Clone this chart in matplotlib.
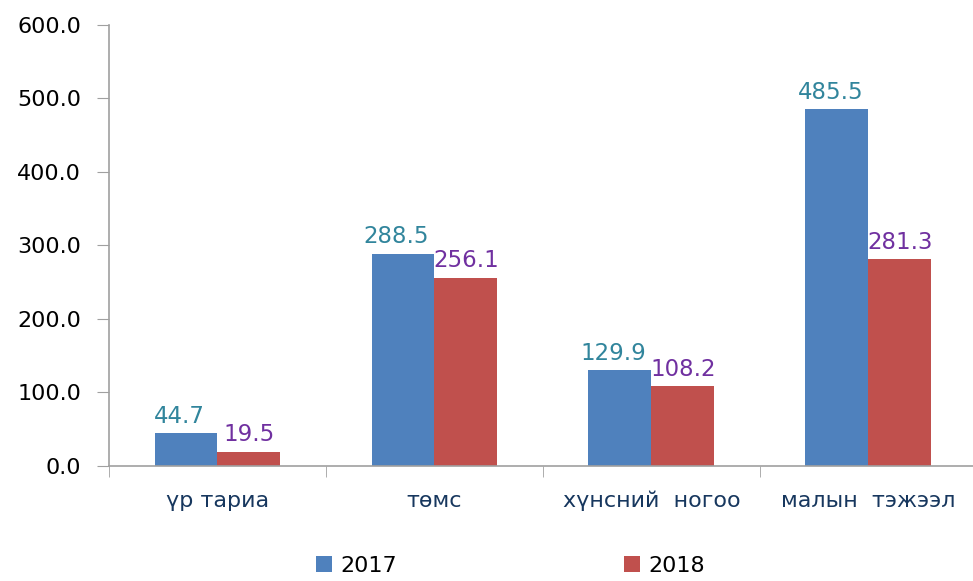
import matplotlib
matplotlib.use("Agg")
import matplotlib.pyplot as plt
import numpy as np

categories = ["үр тариа", "төмс", "хүнсний  ногоо", "малын  тэжээл"]
series_names = ["2017", "2018"]
values_2017 = [44.7, 288.5, 129.9, 485.5]
values_2018 = [19.5, 256.1, 108.2, 281.3]
yticks = [0, 100, 200, 300, 400, 500, 600]

plt.rcParams['font.family'] = ['DejaVu Sans']

fig = plt.figure(figsize=(9.73, 5.81), dpi=100)
ax = fig.add_axes([0.112, 0.198, 0.892, 0.759])

x = np.arange(len(categories))
w = 0.29
c1, c2 = "#4F81BD", "#C0504D"
b1 = ax.bar(x - w/2, values_2017, w, color=c1, label=series_names[0])
b2 = ax.bar(x + w/2, values_2018, w, color=c2, label=series_names[1])

for rect, v in zip(b1, values_2017):
    ax.annotate(f"{v:.1f}", (rect.get_x() + rect.get_width()/2 - 0.03, v),
                xytext=(0, 4), textcoords="offset points", ha="center", va="bottom",
                fontsize=16.5, color="#31859C")
for rect, v in zip(b2, values_2018):
    ax.annotate(f"{v:.1f}", (rect.get_x() + rect.get_width()/2, v),
                xytext=(0, 4), textcoords="offset points", ha="center", va="bottom",
                fontsize=16.5, color="#7030A0")

ax.set_xlim(-0.5, len(categories) - 0.5)
ax.set_ylim(0, 600)
ax.set_yticks(yticks)
ax.set_yticklabels([f"{t:.1f}" for t in yticks], fontsize=16, color="black")
ax.set_xticks(x)
ax.set_xticklabels(categories, fontsize=16, color="#17375E")
ax.set_xticks(np.arange(len(categories) + 1) - 0.5, minor=True)
ax.tick_params(axis='x', which='major', length=0, pad=18)
ax.tick_params(axis='x', which='minor', length=8, color="#A0A0A0", direction='out')
ax.tick_params(axis='y', length=9, color="#A0A0A0", direction='out', pad=11)

for s in ["top", "right"]:
    ax.spines[s].set_visible(False)
for s in ["left", "bottom"]:
    ax.spines[s].set_color("#A0A0A0")
    ax.spines[s].set_linewidth(1.2)

leg = fig.legend(handles=[b1, b2], labels=series_names, loc="lower center",
                 bbox_to_anchor=(0.525, -0.025), ncol=2, frameon=False, fontsize=16,
                 handlelength=0.7, handleheight=0.7, handletextpad=0.4, columnspacing=10.2)

fig.savefig("out.png", dpi=100)
